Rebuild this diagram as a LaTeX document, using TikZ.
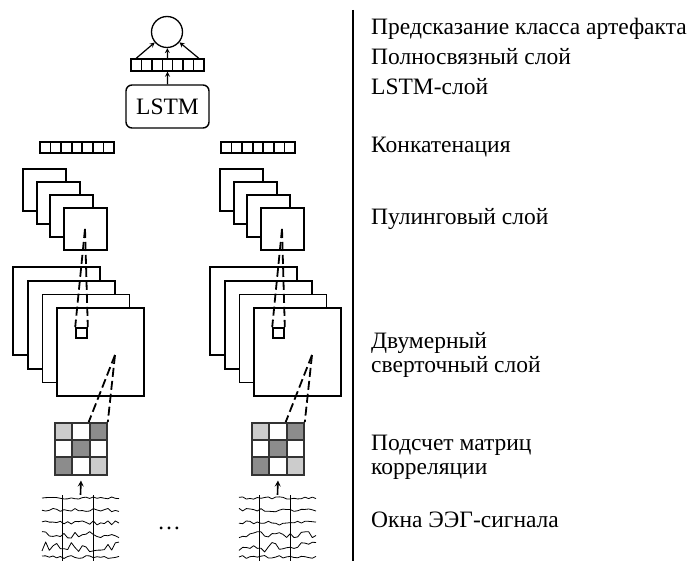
\documentclass[tikz,border=0pt]{standalone}
\usepackage{fontspec}
\setmainfont{Liberation Serif}
\usetikzlibrary{positioning}
\usetikzlibrary{calc}
\usetikzlibrary{arrows}
\tikzset{
    % Small triangular arrow heads
    >=stealth,
%
    % One feature map of a convolution or pooling layer
    feature map/.style={draw, fill=white, line width=1.8pt, inner sep=0},
%
    % One cell of a flat vector
    vector cell/.style={draw, line width=1.6pt, inner sep=0,
        minimum width=10.5pt, minimum height=11pt},
%
    % The receptive field links
    field link/.style={line width=1.8pt, dash pattern=on 9pt off 4pt},
%
    % Text on the right hand side
    layer label/.style={anchor=base west, align=left,
        font=\fontsize{23.5}{24}\selectfont, inner sep=0}}

\begin{document}
\begin{tikzpicture}[x=1pt, y=-1pt]

\useasboundingbox (0,0) rectangle (693,561);
\pgfmathsetseed{11}

\tikzset{
    cell light/.style={fill=black!20},
    cell dark/.style={fill=black!45},
    cell plain/.style={fill=white}}

% Output, fully connected layer and LSTM
\node (out) [draw, circle, line width=1.3pt, minimum size=31pt] at (167,32) {};
\foreach \k in {1,...,7}
    \node (fc-\k) [vector cell, line width=1.4pt, minimum width=10.43pt,
        minimum height=12pt] at ({131+10.43*(\k-0.5)}, 65) {};
\node (lstm) [draw, line width=1.4pt, rounded corners=6pt,
    minimum width=83pt, minimum height=43pt,
    font=\fontsize{23.5}{24}\selectfont] at (167.5,106.5) {LSTM};
\draw [->, line width=1.2pt] (lstm) -- (fc-4);
\draw [->, line width=1.2pt] (fc-1.north) -- (out);
\draw [->, line width=1.2pt] (fc-4.north) -- (out);
\draw [->, line width=1.2pt] (fc-7.north) -- (out);

% The two parallel branches
\foreach \col/\dx/\bx in {l/0/0, r/197/181} {
    % concatenated vector
    \foreach \k in {1,...,7}
        \node (cat-\col-\k) [vector cell, minimum width=10.57pt]
            at ({\bx+40+10.57*(\k-0.5)}, 147.5) {};
    % pooling maps
    \foreach \i in {1,...,4}
        \node (pool-\col-\i) [feature map, minimum width=43pt, minimum height=42pt]
            at ({\dx+44.5+13.6*(\i-1)}, {190+13*(\i-1)}) {};
    \coordinate (pp-\col) at (\dx+85,229);
    % convolution maps
    \foreach \i in {1,...,4}
        \node (conv-\col-\i) [feature map, minimum width=87pt, minimum height=88pt]
            at ({\dx+56.5+14.7*(\i-1)}, {311+13.7*(\i-1)}) {};
    \node (field-\col) [feature map, line width=1.6pt,
        minimum width=11pt, minimum height=10pt] at (\dx+81.5,333) {};
    \coordinate (cp-\col) at (\dx+115,355);
    % correlation matrix
    \foreach \r/\c/\tone in {1/1/light, 1/2/plain, 1/3/dark,
                             2/1/plain, 2/2/dark, 2/3/plain,
                             3/1/dark, 3/2/plain, 3/3/light}
        \node (corr-\col-\r\c) [draw=black!80, line width=1.8pt, cell \tone,
            minimum size=17.3pt, inner sep=0]
            at ({\dx+55+17.3*(\c-0.5)}, {423+17.2*(\r-0.5)}) {};
    % receptive fields
    \draw [field link] (pp-\col) -- (field-\col.north west);
    \draw [field link] (pp-\col) -- (field-\col.north east);
    \draw [field link] (cp-\col) -- (corr-\col-13.north west);
    \draw [field link] (cp-\col) -- (corr-\col-13.north east);
    % EEG window
    \node (eeg-\col) [minimum width=77pt, minimum height=66pt, inner sep=0]
        at (\dx+80.5,528) {};
    \draw [line width=1pt] (\dx+62,495) -- (\dx+62,561);
    \draw [line width=1pt] (\dx+93,495) -- (\dx+93,561);
    \foreach \yy/\amp in {498/1.2, 510/2, 523/2.2, 535/3.5, 547/5, 557/1.5}
        \draw [line width=0.8pt, line join=round]
            plot [domain=42:119, samples=22] ({\x+\dx}, {\yy+\amp*rand});
    \draw [->, line width=1.6pt] (eeg-\col.north) -- ([yshift=-5pt]corr-\col-32.south);
}

\node (dots) [font=\fontsize{23.5}{24}\selectfont] at (169,528) {\dots};

% Separator and layer names
\draw [line width=1.8pt] (353,10) -- (353,561);
\node (lbl-out) [layer label] at (371,35) {Предсказание класса артефакта};
\node (lbl-fc) [layer label] at (371,65) {Полносвязный слой};
\node (lbl-lstm) [layer label] at (371,95) {LSTM-слой};
\node (lbl-cat) [layer label] at (371,153) {Конкатенация};
\node (lbl-pool) [layer label] at (371,225) {Пулинговый слой};
\node (lbl-conv) [layer label] at (371,372) {Двумерный\\сверточный слой};
\node (lbl-corr) [layer label] at (371,474) {Подсчет матриц\\корреляции};
\node (lbl-eeg) [layer label] at (371,527) {Окна ЭЭГ-сигнала};

\end{tikzpicture}
\end{document}
